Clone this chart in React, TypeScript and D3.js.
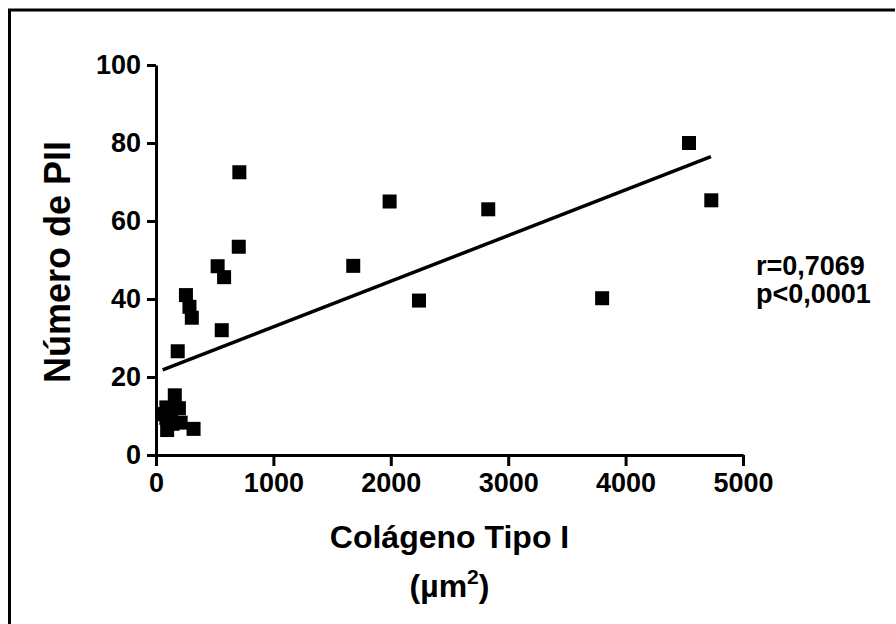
import React, { useEffect, useRef } from "react";
import * as d3 from "d3";

// data
const colageno = [
  4540, 4730, 3800, 2830, 2240, 1990, 1680, 710, 705, 580, 525, 560, 255, 285, 305, 185,
  160, 195, 88, 88, 95, 140, 210, 320, 130, 60,
];
const numeroPII = [
  80, 65.3, 40.2, 63, 39.6, 65, 48.5, 72.5, 53.4, 45.6, 48.4, 32, 41, 38, 35.2, 26.6,
  15.3, 12, 12.2, 9.5, 6.4, 8, 8.3, 6.7, 11, 10.5,
];
const xTicks = [0, 1000, 2000, 3000, 4000, 5000];
const yTicks = [0, 20, 40, 60, 80, 100];
// fitted line as drawn (slope / intercept / extent)
const fitSlope = 0.011713;
const fitIntercept = 21.13;
const fitRange = [57, 4727];
const statsLines = ["r=0,7069", "p<0,0001"];

const FONT = "'Liberation Sans', Arial, sans-serif";

const App = () => {
  const svgRef = useRef(null);

  useEffect(() => {
    const width = 896;
    const height = 624;
    const svg = d3.select(svgRef.current);
    svg.selectAll("*").remove();

    const xScale = d3.scaleLinear().domain([0, 5000]).range([156, 743]);
    const yScale = d3.scaleLinear().domain([0, 100]).range([455, 65]);

    // partial frame (top + left only)
    svg
      .append("path")
      .attr("d", `M9.5,${height} L9.5,10 L${width - 1},10`)
      .attr("fill", "none")
      .attr("stroke", "#000")
      .attr("stroke-width", 3);

    // y axis
    const yAxis = svg
      .append("g")
      .attr("transform", `translate(${xScale(0)},0)`)
      .call(
        d3.axisLeft(yScale).tickValues(yTicks).tickFormat(d3.format("d"))
          .tickSize(9).tickSizeOuter(0).tickPadding(6)
      );
    yAxis.select(".domain").attr("stroke-width", 3);
    yAxis.selectAll(".tick line").attr("stroke-width", 3);
    yAxis
      .selectAll("text")
      .style("font-family", FONT)
      .style("font-weight", "bold")
      .style("font-size", "27px")
      .attr("fill", "#000");

    // x axis
    const xAxis = svg
      .append("g")
      .attr("transform", `translate(0,${yScale(0)})`)
      .call(
        d3.axisBottom(xScale).tickValues(xTicks).tickFormat(d3.format("d"))
          .tickSize(11).tickSizeOuter(0).tickPadding(7)
      );
    xAxis.select(".domain").attr("stroke-width", 3);
    xAxis.selectAll(".tick line").attr("stroke-width", 3);
    xAxis
      .selectAll("text")
      .style("font-family", FONT)
      .style("font-weight", "bold")
      .style("font-size", "27px")
      .attr("fill", "#000");

    // regression line
    svg
      .append("line")
      .attr("x1", xScale(fitRange[0]))
      .attr("y1", yScale(fitIntercept + fitSlope * fitRange[0]))
      .attr("x2", xScale(fitRange[1]))
      .attr("y2", yScale(fitIntercept + fitSlope * fitRange[1]))
      .attr("stroke", "#000")
      .attr("stroke-width", 3.5);

    // square markers
    const sz = 14;
    svg
      .selectAll(".pt")
      .data(colageno.map((c, i) => ({ x: c, y: numeroPII[i] })))
      .enter()
      .append("rect")
      .attr("class", "pt")
      .attr("x", (d) => xScale(d.x) - sz / 2)
      .attr("y", (d) => yScale(d.y) - sz / 2)
      .attr("width", sz)
      .attr("height", sz)
      .attr("fill", "#000");

    // y title
    svg
      .append("text")
      .attr("transform", "translate(70,262) rotate(-90)")
      .attr("text-anchor", "middle")
      .style("font-family", FONT)
      .style("font-weight", "bold")
      .style("font-size", "36px")
      .text("Número de PII");

    // x title
    svg
      .append("text")
      .attr("x", (xScale(0) + xScale(5000)) / 2)
      .attr("y", 548)
      .attr("text-anchor", "middle")
      .style("font-family", FONT)
      .style("font-weight", "bold")
      .style("font-size", "32px")
      .text("Colágeno Tipo I");

    const unit = svg
      .append("text")
      .attr("x", (xScale(0) + xScale(5000)) / 2)
      .attr("y", 597)
      .attr("text-anchor", "middle")
      .style("font-family", FONT)
      .style("font-weight", "bold")
      .style("font-size", "32px");
    unit.append("tspan").text("(µm");
    unit.append("tspan").attr("dy", -13).style("font-size", "21px").text("2");
    unit.append("tspan").attr("dy", 13).text(")");

    // stats
    svg
      .selectAll(".stat")
      .data(statsLines)
      .enter()
      .append("text")
      .attr("class", "stat")
      .attr("x", 756)
      .attr("y", (d, i) => 275 + i * 28)
      .style("font-family", FONT)
      .style("font-weight", "bold")
      .style("font-size", "27px")
      .text((d) => d);
  }, []);

  return (
    <svg
      ref={svgRef}
      width={896}
      height={624}
      style={{ position: "absolute", left: 0, top: 0, background: "#fff" }}
    ></svg>
  );
};

export default App;
